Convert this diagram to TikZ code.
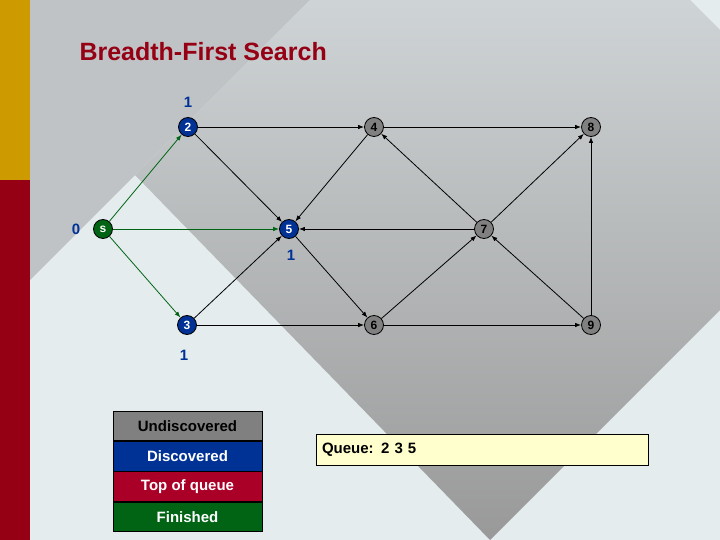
\documentclass[tikz,border=0pt]{standalone}
\usepackage{fontspec}
\setmainfont{Liberation Sans}
\usetikzlibrary{arrows.meta}
\definecolor{darkred}{RGB}{150,0,20}
\definecolor{gold}{RGB}{205,155,0}
\definecolor{lightbg}{RGB}{228,236,238}
\definecolor{midgray}{RGB}{192,195,197}
\definecolor{vtxgray}{RGB}{128,128,128}
\definecolor{vtxblue}{RGB}{0,50,150}
\definecolor{vtxgreen}{RGB}{0,100,20}
\definecolor{topred}{RGB}{170,0,40}
\definecolor{qyellow}{RGB}{255,255,205}
\tikzset{
  vtx/.style={circle, draw=black, thick, inner sep=0pt, minimum size=19pt,
    font=\bfseries\fontsize{12}{12}\selectfont},
  undisc/.style={vtx, fill=vtxgray, text=black},
  disc/.style={vtx, fill=vtxblue, text=white},
  fin/.style={vtx, fill=vtxgreen, text=white},
  edge/.style={-{Latex[length=6pt,width=4.5pt]}, thick},
  tree/.style={edge, vtxgreen},
  dist/.style={text=vtxblue, font=\bfseries\fontsize{15}{15}\selectfont},
  legend/.style={draw=black, thick, minimum width=149pt, minimum height=29.5pt,
    inner sep=0pt, font=\bfseries\fontsize{15}{15}\selectfont}
}
\begin{document}
\begin{tikzpicture}[x=1pt, y=-1pt]
    \useasboundingbox (0,0) rectangle (720,540);

    % Background
    \fill[lightbg] (0,0) rectangle (720,540);
    \fill[midgray] (30,0) -- (310,0) -- (30,280) -- cycle;
    \shade[top color=midgray!60!lightbg, bottom color=black!40]
        (310,0) -- (690,0) -- (720,30) -- (720,310) -- (490,540) -- (135,175) -- cycle;
    \fill[gold] (0,0) rectangle (30,180);
    \fill[darkred] (0,180) rectangle (30,540);

    % Title
    \node[anchor=west, text=darkred, font=\bfseries\fontsize{25}{25}\selectfont]
        (title) at (76,52) {Breadth-First Search};

    % Vertices
    \node[fin] (s) at (103,229) {s};
    \node[disc] (v2) at (188,127) {2};
    \node[disc] (v5) at (289,229) {5};
    \node[disc] (v3) at (187,325) {3};
    \node[undisc] (v4) at (374,127) {4};
    \node[undisc] (v7) at (484,229) {7};
    \node[undisc] (v6) at (374,325) {6};
    \node[undisc] (v8) at (591,127) {8};
    \node[undisc] (v9) at (591,325) {9};

    % Distances
    \node[dist] (d2) at (188,102) {1};
    \node[dist] (ds) at (76,229) {0};
    \node[dist] (d5) at (291,255) {1};
    \node[dist] (d3) at (184,355) {1};

    % Edges
    \draw[tree] (s) -- (v2);
    \draw[tree] (s) -- (v5);
    \draw[tree] (s) -- (v3);
    \foreach \a/\b in {v2/v4, v2/v5, v3/v5, v3/v6, v4/v5, v5/v6, v7/v5, v7/v4,
                       v6/v7, v7/v8, v4/v8, v9/v7, v9/v8, v6/v9}
        \draw[edge] (\a) -- (\b);

    % Legend
    \node[legend, fill=vtxgray, text=black] (lund) at (187.5,426) {Undiscovered};
    \node[legend, fill=vtxblue, text=white, anchor=north] (ldisc) at (lund.south) {Discovered};
    \node[legend, fill=topred, text=white, anchor=north] (ltop) at (ldisc.south) {Top of queue};
    \node[legend, fill=vtxgreen, text=white, anchor=north] (lfin) at (ltop.south) {Finished};

    % Queue
    \node[draw=black, thick, fill=qyellow, minimum width=332pt, minimum height=31pt,
        inner xsep=6pt, text width=320pt, align=left,
        font=\bfseries\fontsize{15}{15}\selectfont] (queue) at (482,449.5) {Queue: 2 3 5};
\end{tikzpicture}
\end{document}
